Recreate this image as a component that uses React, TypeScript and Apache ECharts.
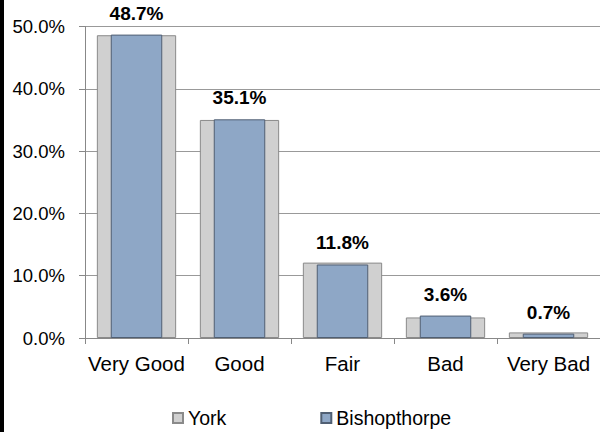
import React, { useEffect, useRef } from "react";
import * as echarts from "echarts";

const categories = ["Very Good", "Good", "Fair", "Bad", "Very Bad"];
const yorkValues = [48.6, 35.0, 12.1, 3.3, 0.9];
const bishopthorpeValues = [48.7, 35.1, 11.8, 3.6, 0.7];
const seriesNames = ["York", "Bishopthorpe"];

export default function App() {
  const ref = useRef<HTMLDivElement>(null);
  useEffect(() => {
    if (!ref.current) return;
    const chart = echarts.init(ref.current, null, { renderer: "svg" });
    const font = "'Liberation Sans', Arial, sans-serif";
    const xAxisBase = {
      type: "category" as const,
      data: categories,
      boundaryGap: true,
    };
    chart.setOption({
      animation: false,
      backgroundColor: "#ffffff",
      textStyle: { fontFamily: font },
      graphic: [
        { type: "rect", shape: { x: 0, y: 0, width: 4, height: 432 }, style: { fill: "#000" }, z: 100 },
      ],
      grid: { left: 85, top: 26.5, width: 517, height: 311.5, containLabel: false },
      legend: {
        left: 172,
        top: 408,
        padding: 0,
        itemWidth: 10,
        itemHeight: 10,
        itemGap: 94,
        icon: "rect",
        textStyle: { fontFamily: font, fontSize: 19.5, lineHeight: 20, color: "#000" },
        data: seriesNames,
      },
      xAxis: [
        {
          ...xAxisBase,
          axisLine: { show: true, lineStyle: { color: "#888", width: 1 } },
          axisTick: { show: true, length: 6, lineStyle: { color: "#888" } },
          axisLabel: { fontFamily: font, fontSize: 20.5, color: "#000", margin: 15, interval: 0 },
        },
        {
          ...xAxisBase,
          show: false,
        },
      ],
      yAxis: {
        type: "value",
        min: 0,
        max: 50,
        interval: 10,
        axisLine: { show: true, lineStyle: { color: "#888", width: 1 } },
        axisTick: { show: true, length: 6, lineStyle: { color: "#888" } },
        splitLine: { show: true, lineStyle: { color: "#999", width: 1 } },
        axisLabel: {
          fontFamily: font,
          fontSize: 18.5,
          color: "#000",
          margin: 20,
          formatter: (v: number) => v.toFixed(1) + "%",
        },
      },
      series: [
        {
          name: seriesNames[0],
          type: "bar",
          xAxisIndex: 0,
          data: yorkValues,
          barWidth: "77%",
          itemStyle: { color: "#d0d0d0", borderColor: "#8a8a8a", borderWidth: 1 },
          z: 2,
        },
        {
          name: seriesNames[1],
          type: "bar",
          xAxisIndex: 1,
          data: bishopthorpeValues,
          barWidth: "50%",
          itemStyle: { color: "#8ea7c6", borderColor: "#505f73", borderWidth: 1 },
          z: 3,
          label: {
            show: true,
            position: "top",
            distance: 12,
            fontFamily: font,
            fontSize: 19,
            fontWeight: "bold",
            color: "#000",
            formatter: (p: any) => Number(p.value).toFixed(1) + "%",
          },
        },
      ],
    });
    return () => chart.dispose();
  }, []);
  return (
    <div
      ref={ref}
      style={{ position: "absolute", left: 0, top: 0, width: 600, height: 432 }}
    />
  );
}
